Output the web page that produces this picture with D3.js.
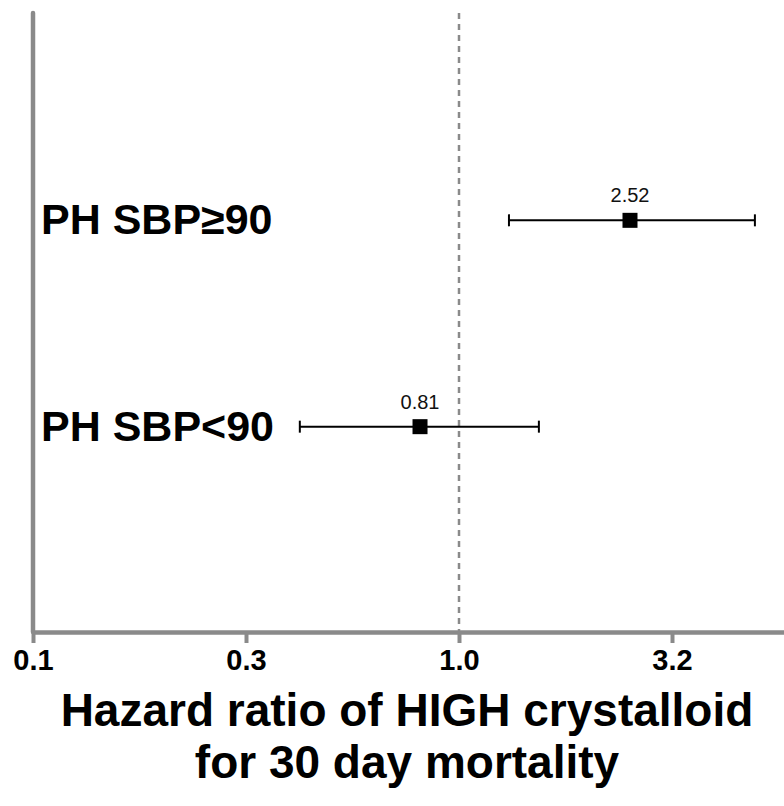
<!DOCTYPE html>
<html>
<head>
<meta charset="utf-8">
<script src="https://cdn.jsdelivr.net/npm/d3@7"></script>
<style>
html,body{margin:0;padding:0;background:#fff;}
svg{display:block;}
</style>
</head>
<body>
<svg id="chart" width="784" height="806"></svg>
<script>
// ---- data ----
const categories = ["PH SBP\u226590", "PH SBP<90"];
const hazardRatio = [2.52, 0.81];
const ciLower = [1.31, 0.423];
const ciUpper = [4.95, 1.54];
const valueLabels = ["2.52", "0.81"];
const tickValues = [0.1, Math.pow(10, -0.5), 1, Math.pow(10, 0.5)];
const tickLabels = ["0.1", "0.3", "1.0", "3.2"];
const titleLines = ["Hazard ratio of HIGH crystalloid", "for 30 day mortality"];

const svg = d3.select("#chart");
const axisColor = "#8a8a8a";
const font = "'Liberation Sans', Arial, Helvetica, sans-serif";

const x = d3.scaleLog().domain([0.1, 10]).range([33, 885]);
const y = d3.scaleLinear().domain([0, 3]).range([13, 632]);

// reference dashed line at 1.0
svg.append("line")
  .attr("x1", x(1)).attr("x2", x(1))
  .attr("y1", y(0)).attr("y2", y(3))
  .attr("stroke", "#8a8a8a").attr("stroke-width", 2.5)
  .attr("stroke-dasharray", "6,5");

// x axis
const xAxis = d3.axisBottom(x)
  .tickValues(tickValues)
  .tickFormat((d, i) => tickLabels[i])
  .tickSize(11)
  .tickPadding(6)
  .tickSizeOuter(0);
const gx = svg.append("g").attr("transform", `translate(0,${y(3)})`).call(xAxis);
gx.select(".domain").attr("stroke", axisColor).attr("stroke-width", 4.5);
gx.selectAll(".tick line").attr("stroke", axisColor).attr("stroke-width", 4);
gx.selectAll(".tick text")
  .attr("fill", "#000").attr("font-family", font)
  .attr("font-size", 29).attr("font-weight", "bold");

// y axis line
svg.append("line")
  .attr("x1", x(0.1)).attr("x2", x(0.1))
  .attr("y1", y(0)).attr("y2", y(3))
  .attr("stroke", axisColor).attr("stroke-width", 4.5)
  .attr("stroke-linecap", "round");

// rows
const rows = categories.map((c, i) => ({
  cat: c, hr: hazardRatio[i], lo: ciLower[i], hi: ciUpper[i], lab: valueLabels[i], idx: i + 1
}));

const g = svg.append("g");
rows.forEach(r => {
  const cy = y(r.idx) + 1;
  g.append("line")
    .attr("x1", x(r.lo)).attr("x2", x(r.hi))
    .attr("y1", cy).attr("y2", cy)
    .attr("stroke", "#000").attr("stroke-width", 2);
  [r.lo, r.hi].forEach(v => {
    g.append("line")
      .attr("x1", x(v)).attr("x2", x(v))
      .attr("y1", cy - 6).attr("y2", cy + 6)
      .attr("stroke", "#000").attr("stroke-width", 2);
  });
  g.append("rect")
    .attr("x", x(r.hr) - 7.5).attr("y", cy - 7.5)
    .attr("width", 15).attr("height", 15)
    .attr("fill", "#000");
  g.append("text")
    .attr("x", x(r.hr)).attr("y", cy - 18)
    .attr("text-anchor", "middle")
    .attr("font-family", font).attr("font-size", 20)
    .attr("fill", "#111")
    .text(r.lab);
  g.append("text")
    .attr("x", 41).attr("y", y(r.idx) + 15)
    .attr("font-family", font).attr("font-size", 43)
    .attr("font-weight", "bold").attr("fill", "#000")
    .text(r.cat);
});

// axis title
titleLines.forEach((t, i) => {
  svg.append("text")
    .attr("x", 407).attr("y", 726 + i * 52)
    .attr("text-anchor", "middle")
    .attr("font-family", font).attr("font-size", 46)
    .attr("font-weight", "bold").attr("fill", "#000")
    .text(t);
});
</script>
</body>
</html>
